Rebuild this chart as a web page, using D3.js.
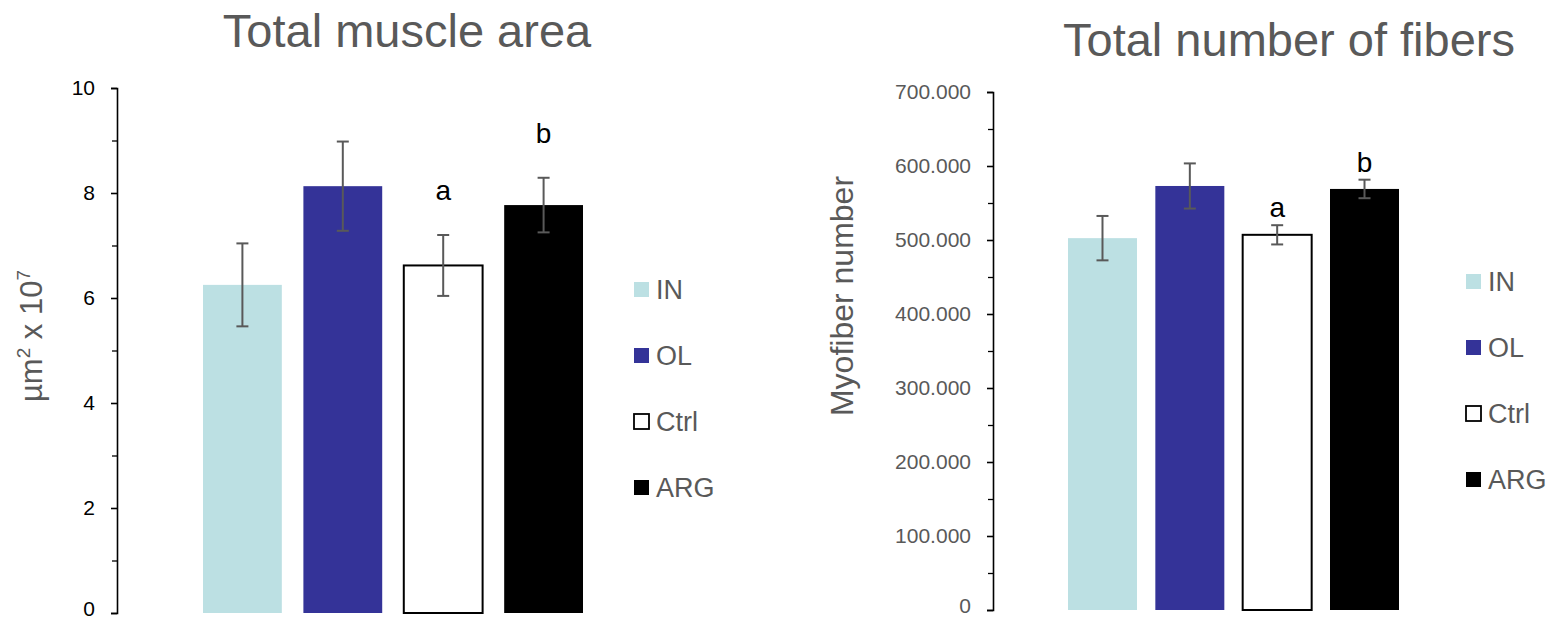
<!DOCTYPE html>
<html>
<head>
<meta charset="utf-8">
<script src="https://cdn.jsdelivr.net/npm/d3@7"></script>
<style>
  body { margin: 0; background: #fff; }
  svg { font-family: Arial, "Liberation Sans", sans-serif; }
</style>
</head>
<body>
<div id="chart"></div>
<script>
// groups shared by both panels
var groups = ['IN', 'OL', 'Ctrl', 'ARG'];
var fills = ['#bce0e3', '#343398', '#ffffff', '#000000'];

// panel 1: total muscle area (µm² x 10^7)
var areaMeans = [6.25, 8.13, 6.62, 7.77];
var areaErrors = [0.79, 0.85, 0.58, 0.52];
var areaLetters = ['', '', 'a', 'b'];
var areaTicks = [0, 2, 4, 6, 8, 10];

// panel 2: total number of fibers
var fiberMeans = [502500, 573000, 507000, 569000];
var fiberErrors = [30000, 30500, 13000, 12500];
var fiberLetters = ['', '', 'a', 'b'];
var fiberTicks = [0, 100000, 200000, 300000, 400000, 500000, 600000, 700000];

var grey = '#595959';
var euro = d3.formatLocale({ decimal: ',', thousands: '.', grouping: [3], currency: ['', ''] });

var svg = d3.select('#chart').append('svg')
  .attr('width', 1562)
  .attr('height', 621);

function drawPanel(opt) {
  var g = svg.append('g');

  var y = d3.scaleLinear().domain([0, opt.max]).range([opt.bottom, opt.top]);
  var x = d3.scaleBand().domain(groups).range(opt.xRange).paddingInner(opt.pad).paddingOuter(0);

  // minor ticks
  g.append('g')
    .attr('transform', 'translate(' + opt.axisX + ',0)')
    .call(d3.axisLeft(y).tickValues(opt.minor).tickSize(5).tickFormat(''))
    .call(function (a) { a.select('.domain').remove(); })
    .selectAll('line').attr('stroke', '#000').attr('stroke-width', 1.3);

  var axis = g.append('g')
    .attr('transform', 'translate(' + opt.axisX + ',0)')
    .call(d3.axisLeft(y).tickValues(opt.ticks).tickSize(6).tickPadding(16).tickFormat(opt.fmt));
  axis.select('.domain').attr('stroke', '#000').attr('stroke-width', 1.6);
  axis.selectAll('line').attr('stroke', '#000').attr('stroke-width', 1.6);
  axis.selectAll('text')
    .attr('font-size', 21)
    .attr('dy', function (d) { return d === 0 ? '0.1em' : '0.3em'; })
    .attr('fill', opt.tickColor)
    .attr('font-family', 'Arial, "Liberation Sans", sans-serif');

  // bars
  g.selectAll('rect.bar')
    .data(opt.means)
    .enter()
    .append('rect')
    .attr('class', 'bar')
    .attr('x', function (d, i) { return x(groups[i]); })
    .attr('y', function (d) { return y(d); })
    .attr('width', x.bandwidth())
    .attr('height', function (d) { return y(0) - y(d); })
    .attr('fill', function (d, i) { return fills[i]; })
    .attr('stroke', function (d, i) { return groups[i] === 'Ctrl' ? '#000' : 'none'; })
    .attr('stroke-width', 2);

  // error bars
  var err = g.selectAll('g.err')
    .data(opt.means)
    .enter()
    .append('g')
    .attr('class', 'err')
    .attr('stroke', grey)
    .attr('stroke-width', 2);
  var cx = function (i) { return x(groups[i]) + x.bandwidth() / 2; };
  err.append('line')
    .attr('x1', function (d, i) { return cx(i); })
    .attr('x2', function (d, i) { return cx(i); })
    .attr('y1', function (d, i) { return y(d + opt.errors[i]); })
    .attr('y2', function (d, i) { return y(d - opt.errors[i]); });
  [1, -1].forEach(function (s) {
    err.append('line')
      .attr('x1', function (d, i) { return cx(i) - 6; })
      .attr('x2', function (d, i) { return cx(i) + 6; })
      .attr('y1', function (d, i) { return y(d + s * opt.errors[i]); })
      .attr('y2', function (d, i) { return y(d + s * opt.errors[i]); });
  });

  // significance letters
  g.selectAll('text.letter')
    .data(opt.means)
    .enter()
    .append('text')
    .attr('class', 'letter')
    .attr('x', function (d, i) { return cx(i); })
    .attr('y', function (d, i) { return y(d + opt.errors[i]) - opt.letterGap; })
    .attr('text-anchor', 'middle')
    .attr('font-size', 28)
    .attr('fill', '#000')
    .text(function (d, i) { return opt.letters[i]; });

  // title
  g.append('text')
    .attr('x', opt.titleX)
    .attr('y', opt.titleY)
    .attr('text-anchor', 'middle')
    .attr('font-size', 47)
    .attr('fill', grey)
    .text(opt.title);

  // y axis title
  var yt = g.append('text')
    .attr('transform', 'translate(' + opt.yTitleX + ',' + opt.yTitleY + ') rotate(-90)')
    .attr('text-anchor', 'middle')
    .attr('font-size', opt.yTitleSize)
    .attr('fill', grey);
  opt.yTitle(yt);

  // legend
  var leg = g.selectAll('g.leg')
    .data(groups)
    .enter()
    .append('g')
    .attr('class', 'leg')
    .attr('transform', function (d, i) { return 'translate(' + opt.legX + ',' + (opt.legY + i * 66) + ')'; });
  leg.append('rect')
    .attr('x', 0).attr('y', -7).attr('width', 15).attr('height', 15)
    .attr('fill', function (d, i) { return fills[i]; })
    .attr('stroke', function (d) { return d === 'Ctrl' ? '#000' : 'none'; })
    .attr('stroke-width', 1.8);
  leg.append('text')
    .attr('x', 22).attr('y', 10)
    .attr('font-size', 27)
    .attr('fill', grey)
    .text(function (d) { return d; });
}

drawPanel({
  means: areaMeans, errors: areaErrors, letters: areaLetters,
  max: 10, ticks: areaTicks, minor: [1, 3, 5, 7, 9],
  fmt: d3.format('d'), tickColor: '#000',
  top: 88, bottom: 613, axisX: 117,
  xRange: [203, 583], pad: 0.215, letterGap: 35,
  title: 'Total muscle area', titleX: 407, titleY: 47,
  yTitleX: 42, yTitleY: 336, yTitleSize: 31,
  yTitle: function (t) {
    t.append('tspan').text('µm');
    t.append('tspan').attr('font-size', 19).attr('dy', -12).text('2');
    t.append('tspan').attr('dy', 12).text(' x 10');
    t.append('tspan').attr('font-size', 19).attr('dy', -12).text('7');
  },
  legX: 634, legY: 289
});

drawPanel({
  means: fiberMeans, errors: fiberErrors, letters: fiberLetters,
  max: 700000, ticks: fiberTicks, minor: [50000, 150000, 250000, 350000, 450000, 550000, 650000],
  fmt: euro.format(','), tickColor: grey,
  top: 92, bottom: 610, axisX: 993,
  xRange: [1068, 1399], pad: 0.21, letterGap: 8,
  title: 'Total number of fibers', titleX: 1289, titleY: 56,
  yTitleX: 853, yTitleY: 296, yTitleSize: 32,
  yTitle: function (t) { t.text('Myofiber number'); },
  legX: 1466, legY: 281
});
</script>
</body>
</html>
